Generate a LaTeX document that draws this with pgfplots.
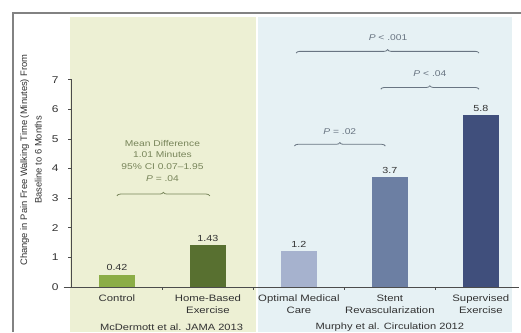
\documentclass[border=0pt]{standalone}
\usepackage{fontspec}
\setmainfont{Liberation Sans}[FakeStretch=1.22]
\newfontfamily\narrowsans{Liberation Sans}
\usepackage{pgfplots}
\pgfplotsset{compat=1.18}
\usetikzlibrary{decorations.pathreplacing}

\definecolor{bggreen}{RGB}{237,240,212}
\definecolor{bgblue}{RGB}{230,241,244}
\definecolor{barcontrol}{RGB}{139,173,70}
\definecolor{barhome}{RGB}{88,112,48}
\definecolor{baromc}{RGB}{166,178,206}
\definecolor{barstent}{RGB}{108,127,163}
\definecolor{barsup}{RGB}{64,79,124}
\definecolor{txtdark}{RGB}{50,50,50}
\definecolor{txtolive}{RGB}{120,133,90}
\definecolor{txtslate}{RGB}{105,117,130}
\definecolor{framegray}{RGB}{130,130,130}

\begin{document}
\begin{tikzpicture}[x=1pt,y=1pt]
\useasboundingbox (0,0) rectangle (521,332);
% panel backgrounds for the two studies
\fill[bggreen] (70,0) rectangle (256,315);
\fill[bgblue] (258,0) rectangle (512,315);
% outer frame
\draw[framegray, line width=1.3pt] (13,0) -- (13,319) -- (521,319);

\begin{axis}[
  at={(71.5pt,45pt)}, anchor=south west,
  scale only axis, width=447.5pt, height=270pt,
  xmin=-0.5, xmax=4.42, ymin=0, ymax=9.12,
  axis x line*=bottom, axis y line*=left,
  axis line style={draw=none},
  clip=false,
  ytick={0,...,7},
  tick align=outside,
  major tick length=3.5pt,
  ytick style={gray!60!black, line width=0.6pt},
  xtick={0,...,4},
  xtick style={draw=none},
  xticklabels={Control, {Home-Based\\Exercise}, {Optimal Medical\\Care}, {Stent\\Revascularization}, {Supervised\\Exercise}},
  xticklabel style={align=center, text=txtdark, font=\fontsize{9.3}{11.5}\selectfont, yshift=-1pt},
  yticklabel style={text=txtdark, font=\fontsize{9.8}{11}\selectfont, xshift=-6pt},
  /pgf/number format/assume math mode=true,
  ybar, bar width=36pt, bar shift=0pt,
  point meta=explicit symbolic,
  nodes near coords,
  every node near coord/.append style={text=txtdark, font=\fontsize{8.8}{10}\selectfont, yshift=0pt},
]
\addplot[fill=barcontrol, draw=none] coordinates {(0,0.42) [0.42]};
\addplot[fill=barhome, draw=none] coordinates {(1,1.43) [1.43]};
\addplot[fill=baromc, draw=none] coordinates {(2,1.2) [1.2]};
\addplot[fill=barstent, draw=none] coordinates {(3,3.7) [3.7]};
\addplot[fill=barsup, draw=none] coordinates {(4,5.8) [5.8]};

% axis lines
\draw[gray!60!black, line width=0.8pt] (axis cs:-0.5,0) -- (axis cs:-0.5,7);
\draw[gray!60!black, line width=0.8pt] ([xshift=-8pt]axis cs:-0.5,0) -- (axis cs:4.42,0);
\draw[gray!60!black, line width=0.6pt] (axis cs:0.5,0) -- ([yshift=-2.5pt]axis cs:0.5,0);
\draw[gray!60!black, line width=0.6pt] (axis cs:1.5,0) -- ([yshift=-2.5pt]axis cs:1.5,0);
\draw[gray!60!black, line width=0.6pt] (axis cs:2.5,0) -- ([yshift=-2.5pt]axis cs:2.5,0);
\draw[gray!60!black, line width=0.6pt] (axis cs:3.5,0) -- ([yshift=-2.5pt]axis cs:3.5,0);

% y axis title
\node[rotate=90, align=center, text=txtdark, font=\narrowsans\fontsize{9.4}{14.5}\selectfont]
  at ([xshift=-40.5pt]axis cs:-0.5,4.29)
  {Change in Pain Free Walking Time (Minutes) From\\Baseline to 6 Months};

% study captions
\node[text=txtdark, font=\fontsize{9.1}{11}\selectfont] at (axis cs:0.6,-1.36) {McDermott et al. JAMA 2013};
\node[text=txtdark, font=\fontsize{9.1}{11}\selectfont] at (axis cs:3.0,-1.36) {Murphy et al. Circulation 2012};

% home-based exercise comparison
\node[align=center, text=txtolive, font=\fontsize{8.4}{11.7}\selectfont] at (axis cs:0.5,4.27)
  {Mean Difference\\1.01 Minutes\\95\% CI 0.07--1.95\\\textit{P} = .04};
\draw[txtolive, line width=0.8pt, decorate, decoration={brace, amplitude=3.5pt}]
  (axis cs:0.0,3.08) -- (axis cs:1.02,3.08);

% pairwise comparisons
\draw[txtslate, line width=0.8pt, decorate, decoration={brace, amplitude=3.5pt}]
  (axis cs:1.95,4.76) -- (axis cs:2.95,4.76);
\node[text=txtslate, font=\fontsize{8.4}{10}\selectfont] at (axis cs:2.45,5.24) {\textit{P} = .02};
\draw[txtslate, line width=0.8pt, decorate, decoration={brace, amplitude=3.5pt}]
  (axis cs:2.9,6.68) -- (axis cs:3.98,6.68);
\node[text=txtslate, font=\fontsize{8.4}{10}\selectfont] at (axis cs:3.44,7.2) {\textit{P} {<} .04};
\draw[txtslate, line width=0.8pt, decorate, decoration={brace, amplitude=3.5pt}]
  (axis cs:1.97,7.9) -- (axis cs:3.98,7.9);
\node[text=txtslate, font=\fontsize{8.4}{10}\selectfont] at (axis cs:2.98,8.41) {\textit{P} {<} .001};
\end{axis}
\end{tikzpicture}
\end{document}
